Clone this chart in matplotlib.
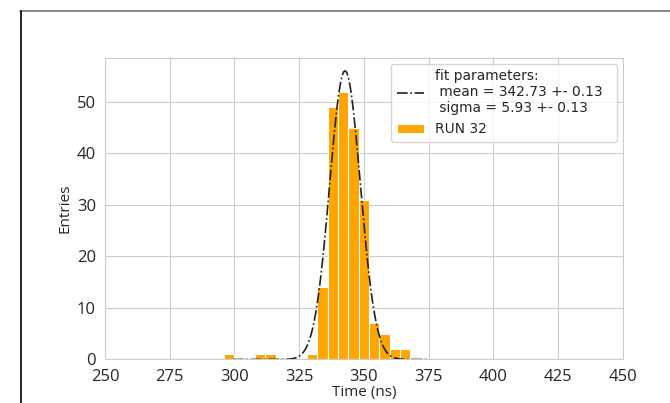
import numpy as np
import matplotlib
matplotlib.use("Agg")
import matplotlib.pyplot as plt
import seaborn as sns
from matplotlib.lines import Line2D

sns.set_style("whitegrid")
plt.rcParams['font.family'] = ['DejaVu Sans']

# histogram of RUN 32 (bin edges in ns, entries per bin)
bin_left = [296, 308, 312, 328, 332, 336, 340, 344, 348, 352, 356, 360, 364]
entries  = [1, 1, 1, 1, 14, 49, 52, 45, 31, 7, 5, 2, 2]
bin_width = 4

# gaussian fit result
fit_mean = 342.73
fit_sigma = 5.93
fit_err = 0.13
fit_amp = 56.0
fit_range = (299.5, 374.5)

txt_col = '#262626'

fig = plt.figure(figsize=(6.7, 4.03), dpi=100)
ax = fig.add_axes([0.1567, 0.108, 0.9294 - 0.1567, 0.856 - 0.108])

t = np.linspace(fit_range[0], fit_range[1], 400)
g = fit_amp * np.exp(-0.5 * ((t - fit_mean) / fit_sigma) ** 2)
lab = ("fit parameters:\n mean = %.2f +- %.2f  \n sigma = %.2f +- %.2f"
       % (fit_mean, fit_err, fit_sigma, fit_err))
ax.plot(t, g, '-.', color='#222222', lw=1.2, label=lab, zorder=3)
ax.bar(bin_left, entries, width=bin_width, align='edge', color='orange',
       edgecolor='white', linewidth=0.8, label='RUN 32', zorder=2)

ax.set_xlim(250, 450)
ax.set_ylim(0, 58.5)
ax.set_xticks(np.arange(250, 451, 25))
ax.set_yticks(np.arange(0, 51, 10))
for lbl in ax.get_xticklabels() + ax.get_yticklabels():
    lbl.set_family('Open Sans')
    lbl.set_fontsize(12)
    lbl.set_color(txt_col)
ax.tick_params(axis='both', pad=3)
ax.set_xlabel('Time (ns)', family='Open Sans', fontsize=11, color=txt_col, labelpad=0)
ax.set_ylabel('Entries', family='Open Sans', fontsize=11, color=txt_col, labelpad=3)

leg = ax.legend(loc='upper right', fontsize=9.9, frameon=True, borderaxespad=0.4,
                handlelength=2.0, handletextpad=0.8)
for tx in leg.get_texts():
    tx.set_color(txt_col)

# notebook cell frame
fig.add_artist(Line2D([20 / 670, 1], [1 - 11 / 403, 1 - 11 / 403], color='#777777', lw=1.2))
fig.add_artist(Line2D([21 / 670, 21 / 670], [0, 1 - 11 / 403], color='black', lw=1.2))

fig.savefig('out.png', dpi=100)
